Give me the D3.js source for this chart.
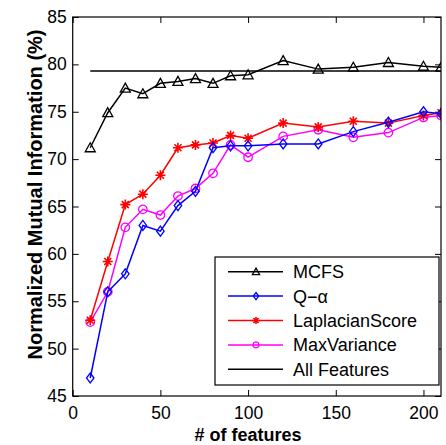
<!DOCTYPE html>
<html>
<head>
<meta charset="utf-8">
<script src="https://cdn.jsdelivr.net/npm/d3@7"></script>
<style>
  body { margin: 0; background: #fff; }
  svg { display: block; font-family: 'Liberation Sans', Arial, sans-serif; }
</style>
</head>
<body>
<div id="chart"></div>
<script>
// values
const noOfFeatures = [10, 20, 30, 40, 50, 60, 70, 80, 90, 100, 120, 140, 160, 180, 200, 210];
const mcfs = [71.2, 74.9, 77.5, 76.9, 78.0, 78.2, 78.5, 78.0, 78.8, 78.9, 80.4, 79.5, 79.7, 80.2, 79.8, 79.7];
const qAlpha = [46.9, 56.0, 57.9, 63.0, 62.4, 65.1, 66.6, 71.2, 71.4, 71.4, 71.6, 71.6, 72.9, 73.9, 75.0, 74.8];
const laplacianScore = [53.0, 59.2, 65.2, 66.3, 68.3, 71.2, 71.5, 71.7, 72.5, 72.2, 73.8, 73.4, 74.0, 73.8, 74.6, 74.9];
const maxVariance = [52.8, 56.0, 62.8, 64.7, 64.1, 66.1, 66.9, 68.5, 71.5, 70.2, 72.4, 73.1, 72.3, 72.8, 74.4, 74.6];
const allFeatures = 79.3;
const xTicks = [0, 50, 100, 150, 200];
const yTicks = [45, 50, 55, 60, 65, 70, 75, 80, 85];

const width = 446, height = 445;
const margin = { top: 17, right: 5, bottom: 49, left: 72.7 };
const plotW = width - margin.left - margin.right;
const plotH = height - margin.top - margin.bottom;

const series = [
  { name: 'MCFS', values: mcfs, color: '#000', marker: 'triangle' },
  { name: 'Q\u2212\u03b1', values: qAlpha, color: '#0000ff', marker: 'diamond' },
  { name: 'LaplacianScore', values: laplacianScore, color: '#ff0000', marker: 'star' },
  { name: 'MaxVariance', values: maxVariance, color: '#ff00ff', marker: 'circle' },
];

const svg = d3.select('#chart').append('svg').attr('width', width).attr('height', height);
const g = svg.append('g').attr('transform', `translate(${margin.left},${margin.top})`);

const x = d3.scaleLinear().domain([0, 210]).range([0, plotW]);
const y = d3.scaleLinear().domain([45, 85]).range([plotH, 0]);

g.append('clipPath').attr('id', 'plot-clip').append('rect').attr('width', plotW).attr('height', plotH);

// marker drawing, size is half-width in px
function drawMarker(sel, type, color, s) {
  switch (type) {
    case 'triangle':
      sel.append('path')
        .attr('d', `M0,${-s}L${s},${s * 0.8}L${-s},${s * 0.8}Z`)
        .attr('fill', 'none').attr('stroke', color).attr('stroke-width', 1.3);
      break;
    case 'diamond':
      sel.append('path')
        .attr('d', `M0,${-s}L${s * 0.75},0L0,${s}L${-s * 0.75},0Z`)
        .attr('fill', 'none').attr('stroke', color).attr('stroke-width', 1.3);
      break;
    case 'circle':
      sel.append('circle').attr('r', s * 0.85)
        .attr('fill', 'none').attr('stroke', color).attr('stroke-width', 1.3);
      break;
    case 'star': {
      const d = s * 0.7;
      sel.append('path')
        .attr('d', `M${-s},0L${s},0M0,${-s}L0,${s}M${-d},${-d}L${d},${d}M${-d},${d}L${d},${-d}`)
        .attr('stroke', color).attr('stroke-width', 1.6);
      break;
    }
  }
}

// axes (matlab style box, ticks inside)
const gx = g.append('g').attr('transform', `translate(0,${plotH})`)
  .call(d3.axisBottom(x).tickValues(xTicks).tickSizeInner(-6).tickSizeOuter(0).tickPadding(11));
const gxTop = g.append('g')
  .call(d3.axisTop(x).tickValues(xTicks).tickSizeInner(-6).tickSizeOuter(0).tickFormat(''));
const gy = g.append('g')
  .call(d3.axisLeft(y).tickValues(yTicks).tickSizeInner(-6).tickSizeOuter(0).tickPadding(6));
const gyRight = g.append('g').attr('transform', `translate(${plotW},0)`)
  .call(d3.axisRight(y).tickValues(yTicks).tickSizeInner(-6).tickSizeOuter(0).tickFormat(''));

[gx, gxTop, gy, gyRight].forEach((a) => {
  a.select('.domain').remove();
  a.selectAll('.tick line').attr('stroke', '#000').attr('stroke-width', 1);
  a.selectAll('.tick text').attr('fill', '#000').style('font-size', '17.5px');
});

const plot = g.append('g').attr('clip-path', 'url(#plot-clip)');

// reference line for all features
plot.append('line')
  .attr('x1', x(noOfFeatures[0])).attr('x2', x(210))
  .attr('y1', y(allFeatures)).attr('y2', y(allFeatures))
  .attr('stroke', '#000').attr('stroke-width', 1.5);

const line = d3.line().x((d) => x(d[0])).y((d) => y(d[1]));

// draw in reverse so MCFS and blue are on top like the reference
[...series].reverse().forEach((s) => {
  const pts = noOfFeatures.map((f, i) => [f, s.values[i]]);
  plot.append('path').datum(pts)
    .attr('d', line)
    .attr('fill', 'none')
    .attr('stroke', s.color)
    .attr('stroke-width', 1.5);
  plot.selectAll(null).data(pts).enter().append('g')
    .attr('transform', (d) => `translate(${x(d[0])},${y(d[1])})`)
    .each(function () { drawMarker(d3.select(this), s.marker, s.color, 5); });
});

// frame
g.append('rect').attr('width', plotW).attr('height', plotH)
  .attr('fill', 'none').attr('stroke', '#000').attr('stroke-width', 1.2);

// legend
const legend = svg.append('g').attr('transform', 'translate(215,257)');
legend.append('rect').attr('width', 224).attr('height', 128)
  .attr('fill', '#fff').attr('stroke', '#000').attr('stroke-width', 1.2);
const legendItems = series.concat([{ name: 'All Features', color: '#000', marker: null }]);
legendItems.forEach((s, i) => {
  const row = legend.append('g').attr('transform', `translate(0,${14.7 + i * 24.4})`);
  row.append('line').attr('x1', 13).attr('x2', 68).attr('stroke', s.color).attr('stroke-width', 1.5);
  if (s.marker) {
    const m = row.append('g').attr('transform', 'translate(41,0)');
    drawMarker(m, s.marker, s.color, 3.6);
  }
  row.append('text').attr('x', 78).attr('y', 6.5)
    .style('font-size', '18px').attr('fill', '#000').text(s.name);
});

// axis labels
svg.append('text')
  .attr('x', margin.left + x(100)).attr('y', 441)
  .attr('text-anchor', 'middle')
  .style('font-size', '18px').style('font-weight', 'bold')
  .text('# of features');
svg.append('text')
  .attr('transform', `translate(42,${margin.top + plotH / 2 - 12}) rotate(-90)`)
  .attr('text-anchor', 'middle')
  .style('font-size', '20px').style('font-weight', 'bold')
  .text('Normalized Mutual Information (%)');
</script>
</body>
</html>
